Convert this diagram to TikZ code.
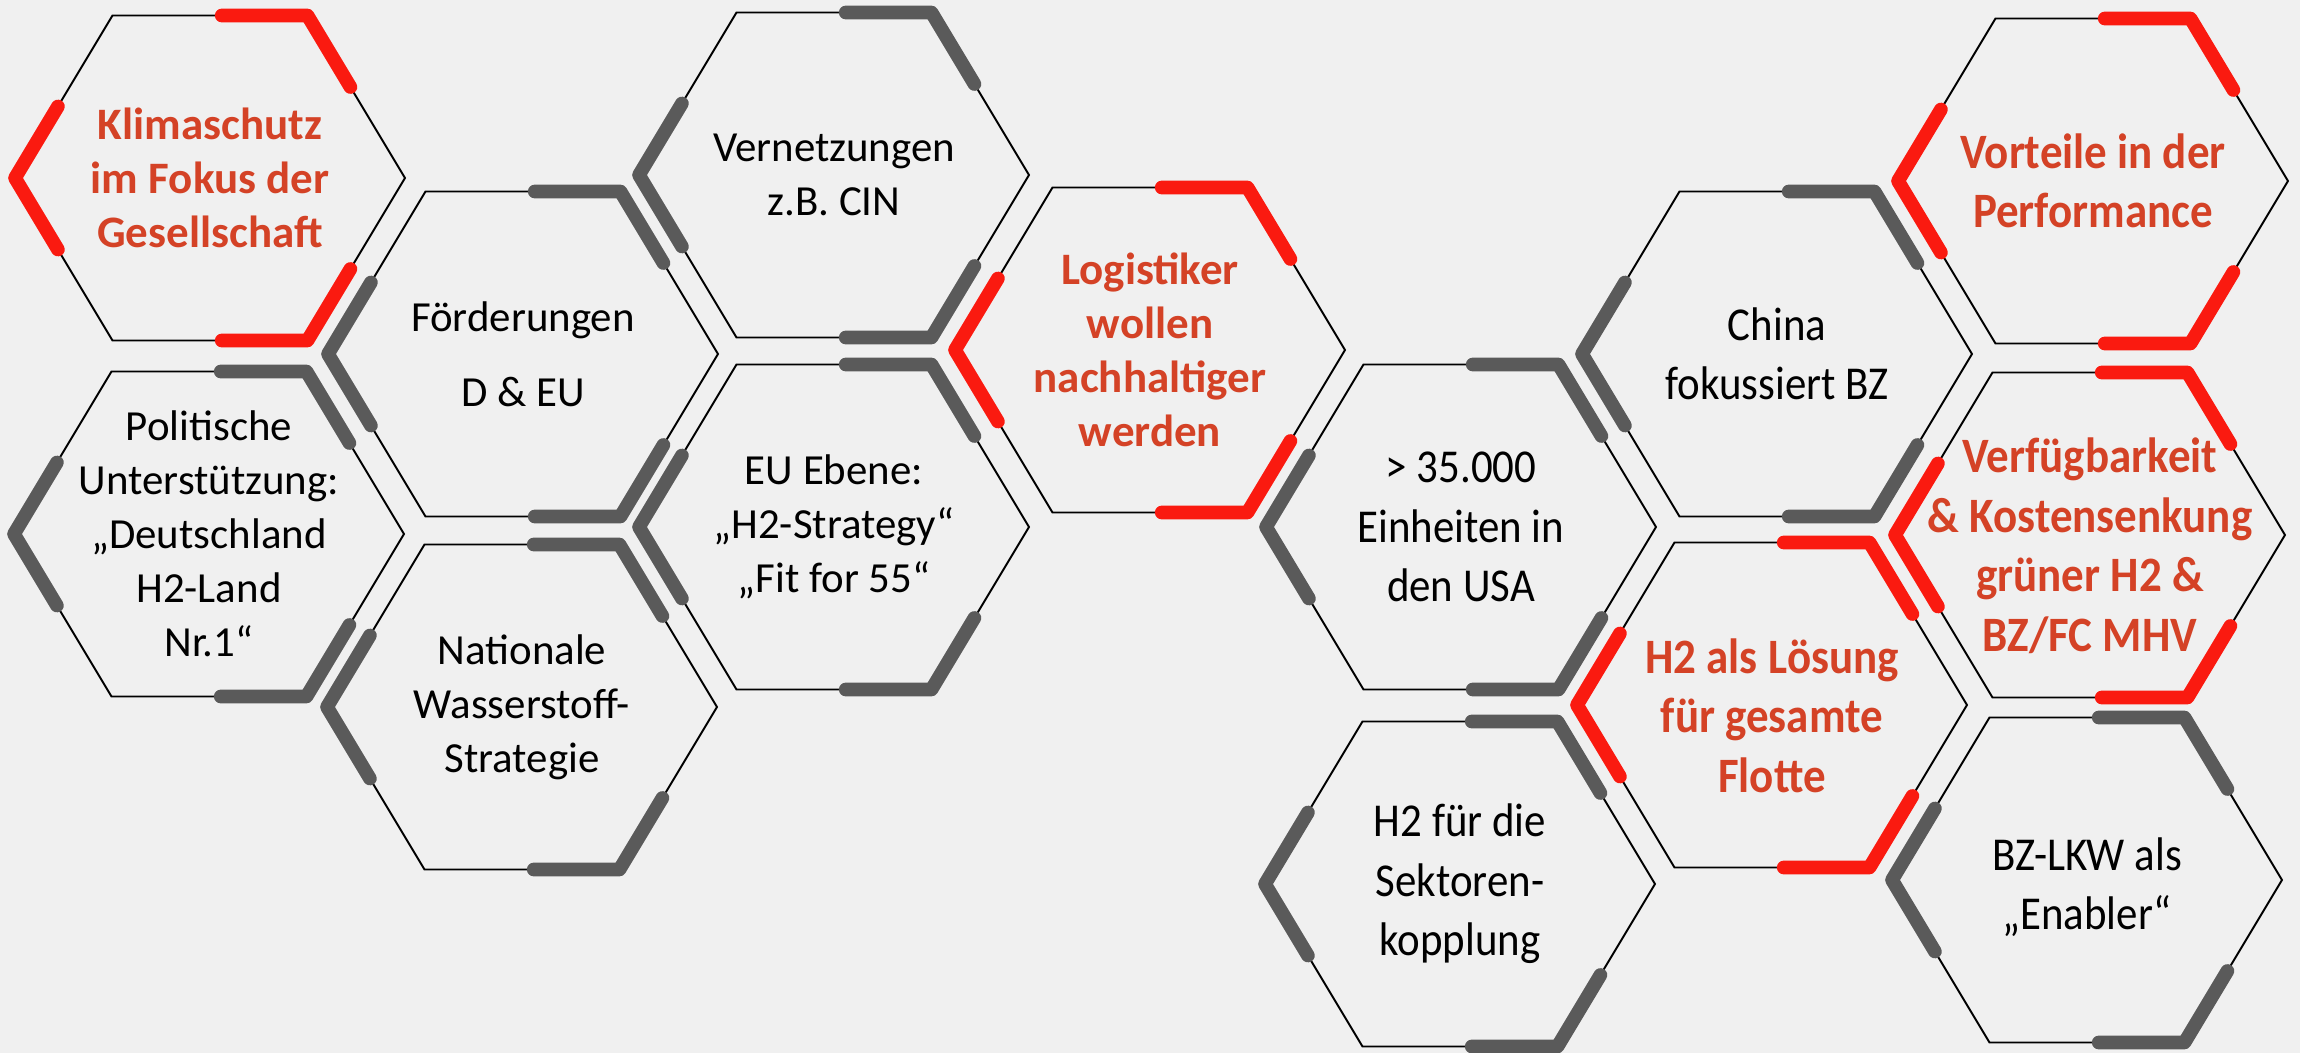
\documentclass[tikz,border=0pt]{standalone}
\usepackage{fontspec}
\setmainfont{Carlito}
\usepackage{tikz}

\definecolor{paper}{RGB}{240,240,240}
\definecolor{hotred}{RGB}{250,26,16}
\definecolor{textred}{RGB}{212,66,38}
\definecolor{cornergray}{RGB}{90,90,90}

% one honeycomb cell: name, x, y, colour of the three marked corners
\newcommand{\hexcell}[4]{%
  \coordinate (#1) at (#2,#3);
  \draw[edge,shift={(#2,#3)}] (-195,0) -- (-97.5,-162.5) -- (97.5,-162.5) -- (195,0) -- (97.5,162.5) -- (-97.5,162.5) -- cycle;
  \draw[accent,#4,shift={(#2,#3)}] (11.7,-162.5) -- (97.5,-162.5) -- (140.4,-91)
        (-152.1,-71.5) -- (-195,0) -- (-152.1,71.5)
        (140.4,91) -- (97.5,162.5) -- (11.7,162.5);
}

\begin{document}
\begin{tikzpicture}[x=0.1mm,y=-0.1mm,
    edge/.style={black,line width=0.55pt},
    accent/.style={line width=3.9pt,line cap=round,line join=round},
    cell/.style={align=center,font=\fontsize{12.2}{15.4}\selectfont},
    hot/.style={align=center,font=\fontsize{12.8}{15.4}\selectfont\bfseries,text=textred},
    tall/.style={yscale=1.1,transform shape}]

    \useasboundingbox (0,0) rectangle (2300,1053);
    \fill[paper] (0,0) rectangle (2300,1053);

    \hexcell{klima}{210}{178}{hotred}
    \hexcell{politik}{209}{534}{cornergray}
    \hexcell{foerder}{523}{354}{cornergray}
    \hexcell{national}{522}{707}{cornergray}
    \hexcell{netz}{834}{175}{cornergray}
    \hexcell{ebene}{834}{527}{cornergray}
    \hexcell{logistik}{1150}{350}{hotred}

    \hexcell{usa}{1461}{527}{cornergray}
    \hexcell{sektor}{1460}{884}{cornergray}
    \hexcell{china}{1777}{354}{cornergray}
    \hexcell{flotte}{1772}{705}{hotred}
    \hexcell{vorteil}{2093}{181}{hotred}
    \hexcell{verfueg}{2090}{535}{hotred}
    \hexcell{enabler}{2087}{880}{cornergray}

    \node[hot] (klimatxt) at (klima) {Klimaschutz\\im Fokus der\\Gesellschaft};
    \node[cell] (politiktxt) at (politik) {Politische\\Unterstützung:\\„Deutschland\\H2-Land\\Nr.1“};
    \node[cell] (foerdertxt) at (foerder) {Förderungen\\[6pt]D \& EU};
    \node[cell] (nationaltxt) at (national) {Nationale\\Wasserstoff-\\Strategie};
    \node[cell] (netztxt) at (netz) {Vernetzungen\\z.B. CIN};
    \node[cell] (ebenetxt) at (ebene) {EU Ebene:\\„H2-Strategy“\\„Fit for 55“};
    \node[hot] (logistiktxt) at (logistik) {Logistiker\\wollen\\nachhaltiger\\werden};

    \node[cell,tall] (usatxt) at (usa) {> 35.000\\Einheiten in\\den USA};
    \node[cell,tall] (sektortxt) at (sektor) {H2 für die\\Sektoren-\\kopplung};
    \node[cell,tall] (chinatxt) at (china) {China\\fokussiert BZ};
    \node[hot,tall] (flottetxt) at ([yshift=-3pt]flotte) {H2 als Lösung\\für gesamte\\Flotte};
    \node[hot,tall] (vorteiltxt) at (vorteil) {Vorteile in der\\Performance};
    \node[hot,tall] (verfuegtxt) at ([yshift=-3pt]verfueg) {Verfügbarkeit\\\& Kostensenkung\\grüner H2 \&\\BZ/FC MHV};
    \node[cell,tall] (enablertxt) at ([yshift=-2pt]enabler) {BZ-LKW als\\„Enabler“};

\end{tikzpicture}
\end{document}
